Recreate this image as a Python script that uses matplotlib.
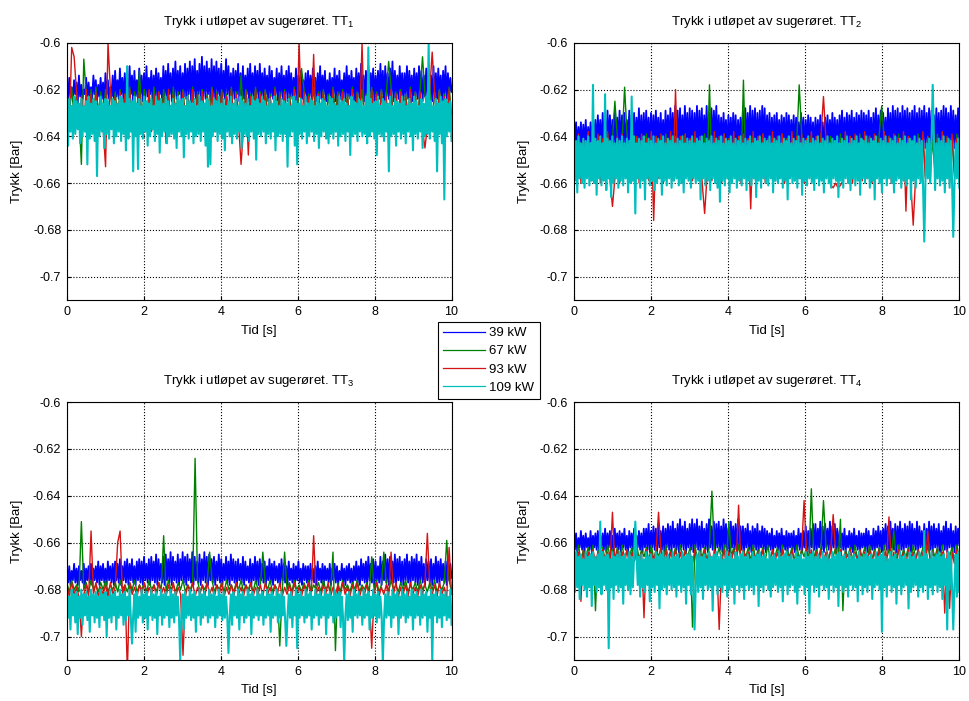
import numpy as np
import matplotlib
matplotlib.use('Agg')
import matplotlib.pyplot as plt

plt.rcParams['font.family'] = ['Liberation Sans', 'DejaVu Sans']
plt.rcParams['mathtext.default'] = 'regular'

effekt = ['39 kW', '67 kW', '93 kW', '109 kW']
farger = ['#0000ff', '#008000', '#d41414', '#00bfbf']
tykkelse = [1.3, 1.0, 1.0, 1.5]

# undertrykk i mbar (plottes som -verdi/1000 bar), lest av figuren, 0-10 s
########################### TT1 ##############################
tt1_39 = [618,624,615,623,619,625,616,622,617,626,614,623,618,624,620,622,615,625,617,623,
          619,624,614,622,616,625,618,623,615,624,617,626,613,622,616,624,619,623,614,625,
          612,623,616,624,611,622,615,625,613,623,617,624,610,622,614,626,612,623,616,624,
          611,622,614,625,613,624,610,623,615,622,612,625,614,623,611,624,613,622,615,626,
          610,623,612,624,609,622,613,625,611,623,608,624,612,622,610,625,613,623,609,624,
          611,622,608,625,610,623,607,624,612,622,609,625,606,623,610,624,608,622,611,625,
          607,623,610,624,608,622,611,625,609,623,612,624,607,622,610,625,613,623,611,624,
          612,622,609,625,613,623,610,624,614,622,611,625,609,623,613,624,610,622,612,625,
          609,623,613,624,611,622,614,625,610,623,612,624,615,622,611,625,613,623,610,624,
          614,622,612,625,610,623,613,624,615,622,611,625,614,623,612,624,616,622,613,625,
          612,623,614,624,611,622,615,625,613,623,610,624,614,622,612,625,616,623,613,624,
          615,622,611,625,614,623,612,624,616,622,613,625,610,623,614,624,612,622,615,625,
          611,623,613,624,609,622,614,625,612,623,610,624,613,622,611,625,614,623,612,624,
          609,622,612,625,610,623,613,624,611,622,608,625,612,623,614,624,610,622,613,625,
          613,623,610,624,612,622,614,625,611,623,613,624,610,622,612,625,614,623,611,624,
          612,622,614,625,610,623,613,624,611,622,614,625,612,623,610,624,613,622,615,621]
tt1_67 = [620,632,619,633,621,630,652,607,622,631,620,633,619,630,621,632,620,634,619,631,
          621,633,620,630,622,632,619,634,621,631,612,633,620,630,622,632,619,631,621,633,
          620,630,622,634,619,631,621,633,620,632,622,630,619,634,621,631,620,633,622,630,
          619,632,621,633,620,631,622,630,619,634,621,632,614,633,620,631,622,630,619,632,
          621,633,620,630,622,634,619,631,621,632,620,633,622,630,619,631,621,611,620,632,
          622,630,619,633,621,631,620,634,622,632,619,630,621,633,620,631,622,634,619,632,
          621,630,620,633,622,631,619,632,621,634,620,630,622,608,619,633,621,631,620,632,
          622,630,619,634,621,632,620,606,622,631,619,633,621,630,620,632,622,634,619,631]
tt1_93 = [622,636,602,606,621,637,623,635,620,638,622,636,621,634,624,637,653,600,620,635,
          623,637,621,636,622,638,620,635,624,637,621,636,623,634,620,638,622,635,621,637,
          623,643,620,638,622,634,624,637,621,636,623,635,620,638,622,634,621,637,623,636,
          620,638,622,635,621,637,623,636,620,634,622,635,652,637,621,648,623,636,620,638,
          622,634,621,637,623,636,620,638,622,635,621,637,623,636,620,638,600,635,621,637,
          623,636,605,638,622,634,621,637,641,636,620,638,622,635,621,637,623,636,620,638,
          622,635,600,637,623,636,620,638,622,634,621,637,623,636,620,638,622,635,621,637,
          623,636,620,638,622,634,621,637,645,636,620,604,622,635,621,637,623,636,620,637]
tt1_109 = [626,644,624,638,627,641,623,639,625,637,626,643,624,640,627,638,625,652,623,641,
           626,639,624,642,625,657,627,640,623,638,626,645,624,639,625,641,627,637,624,643,
           625,640,626,638,623,642,624,639,626,646,610,641,624,638,625,655,623,640,626,654,
           624,639,627,641,623,638,625,644,626,640,624,637,627,642,623,639,625,647,624,640,
           626,638,623,643,625,640,627,639,624,641,626,645,623,638,625,640,624,649,627,639,
           623,641,625,638,626,643,624,640,627,639,623,642,625,638,626,644,624,653,625,652,
           627,640,624,638,625,642,623,639,626,641,624,646,627,638,625,640,623,643,626,639,
           624,641,627,638,623,645,625,639,626,640,624,642,627,638,623,641,625,650,624,639,
           626,640,623,638,625,643,627,639,624,641,626,638,623,646,625,640,627,639,624,642,
           625,639,626,653,624,640,627,638,623,644,625,652,626,639,624,641,627,638,623,643,
           626,640,624,638,625,642,627,639,623,645,626,640,624,638,625,641,627,643,623,639,
           624,641,626,638,627,644,623,640,625,639,624,642,626,638,627,648,623,640,625,639,
           626,642,624,638,625,640,627,639,623,643,602,640,624,638,626,641,625,648,623,639,
           627,640,624,642,625,638,626,655,623,640,627,639,624,644,625,638,626,641,623,639,
           625,643,627,638,624,640,626,646,623,639,625,641,627,638,624,645,626,640,623,639,
           600,641,625,638,627,642,624,655,626,639,623,643,625,667,624,640,626,638,625,642]

########################### TT2 ##############################
tt2_39 = [635,644,634,645,636,643,634,646,635,644,633,645,636,643,634,646,632,644,633,645,
          631,643,633,646,630,644,632,645,629,643,631,646,633,644,630,645,632,643,629,646,
          631,644,630,645,633,643,629,646,631,644,630,645,632,643,628,646,631,644,630,645,
          629,643,632,646,630,644,631,645,629,643,632,646,630,644,633,645,629,643,631,646,
          628,644,630,645,627,643,629,646,628,644,631,645,627,643,630,646,628,644,629,645,
          630,643,627,646,629,644,628,645,631,643,627,646,630,644,628,645,629,643,627,646,
          631,644,632,645,630,643,633,646,631,644,632,645,630,643,631,646,633,644,632,645,
          629,643,628,646,630,644,627,645,629,643,628,646,630,644,629,645,627,643,628,646,
          631,644,630,645,632,643,631,646,630,644,633,645,631,643,632,646,630,644,631,645,
          633,643,631,646,632,644,634,645,630,643,632,646,633,644,631,645,632,643,634,646,
          632,644,633,645,631,643,634,646,632,644,631,645,633,643,630,646,632,644,633,645,
          631,643,629,646,632,644,630,645,631,643,629,646,632,644,630,645,631,643,629,646,
          630,644,631,645,629,643,632,646,630,644,628,645,631,643,629,646,630,644,632,645,
          628,643,630,646,627,644,629,645,628,643,630,646,627,644,629,645,628,643,630,646,
          629,644,627,645,630,643,628,646,629,644,627,645,630,643,628,646,629,644,631,645,
          628,643,630,646,629,644,627,645,628,643,630,646,627,644,629,645,631,643,628,642]
tt2_67 = [641,656,640,655,642,657,639,654,641,656,640,655,642,657,639,654,641,625,640,656,
          642,619,639,655,641,657,640,654,642,656,639,655,641,657,640,654,642,656,639,655,
          641,657,640,654,642,656,639,655,641,657,640,654,642,656,639,655,618,657,640,654,
          642,656,639,655,641,657,640,654,642,656,616,655,641,657,640,654,642,656,639,655,
          641,657,640,654,642,656,639,655,641,657,640,654,642,618,639,655,641,657,640,654,
          642,656,639,655,641,657,640,654,642,656,639,655,641,657,640,654,642,656,639,655,
          641,657,640,654,642,656,639,627,641,657,640,654,642,656,639,655,641,657,640,654,
          642,656,639,655,641,657,640,654,642,656,639,655,641,657,640,654,642,656,639,655]
tt2_93 = [640,658,639,660,641,657,638,659,640,658,639,660,641,657,638,659,670,658,640,660,
          639,657,641,659,638,658,640,660,639,657,641,659,638,676,640,658,639,660,641,657,
          638,659,620,658,640,660,639,657,641,659,638,658,640,660,673,657,641,659,638,658,
          640,660,639,657,641,659,638,658,640,660,639,657,641,671,638,659,640,658,639,660,
          641,657,638,659,640,658,639,660,641,657,638,659,640,658,639,660,641,657,638,659,
          640,658,639,623,641,657,661,662,660,662,661,659,638,658,640,660,639,657,641,659,
          638,658,640,660,639,657,641,659,638,658,640,660,639,657,641,659,638,672,640,660,
          678,657,641,659,638,658,640,660,627,657,641,659,638,658,640,660,639,657,641,659]
tt2_109 = [641,659,642,664,640,658,643,660,641,662,642,658,640,661,643,659,618,660,641,665,
           642,658,640,661,643,659,622,663,641,658,642,666,640,660,643,658,641,662,642,659,
           640,661,643,658,641,664,642,660,623,659,640,673,643,658,641,662,642,659,640,667,
           643,658,641,661,642,659,640,663,643,660,641,658,642,665,640,659,643,661,641,658,
           642,662,640,659,643,658,641,661,642,660,640,664,643,658,641,659,642,662,640,658,
           643,660,641,659,642,667,640,658,643,661,641,659,642,663,640,658,643,660,641,662,
           642,668,640,659,643,661,641,658,642,664,640,660,643,658,641,662,642,659,640,661,
           643,658,641,663,642,659,640,661,643,658,641,666,642,659,640,662,643,658,641,660,
           642,661,640,658,643,664,641,659,642,660,640,658,643,662,641,659,642,667,640,658,
           643,660,641,659,642,662,640,658,643,665,641,659,642,661,640,658,643,660,641,663,
           642,658,640,661,643,659,641,664,642,658,640,660,643,662,641,658,642,659,640,666,
           643,659,641,662,642,658,640,660,643,663,641,658,642,661,640,659,643,665,641,658,
           642,660,640,658,643,662,641,659,642,667,640,658,643,660,641,664,642,658,640,661,
           643,658,641,660,642,664,640,659,643,658,641,662,642,659,640,661,643,658,641,667,
           642,659,640,662,643,658,641,660,642,661,685,659,643,658,641,660,642,618,640,663,
           643,658,641,661,642,659,640,664,643,658,641,662,642,659,683,660,643,658,641,662]

########################### TT3 ##############################
tt3_39 = [671,677,670,678,672,676,669,677,671,678,670,676,672,677,669,678,671,676,670,677,
          669,678,671,676,670,677,668,678,670,676,669,677,671,678,668,676,670,677,669,678,
          668,676,669,677,667,678,670,676,668,677,667,678,669,676,667,677,670,678,668,676,
          667,677,668,678,666,676,669,677,667,678,666,676,668,677,665,678,667,676,669,677,
          666,678,665,676,667,677,664,678,666,676,668,677,665,678,667,676,664,677,666,678,
          665,676,667,677,664,678,666,676,668,677,665,678,667,676,664,677,666,678,665,676,
          667,677,666,678,668,676,665,677,667,678,669,676,666,677,668,678,665,676,667,677,
          668,678,667,676,669,677,666,678,668,676,670,677,667,678,669,676,666,677,668,678,
          667,676,669,677,668,678,670,676,667,677,669,678,668,676,670,677,669,678,667,676,
          669,677,670,678,668,676,671,677,669,678,670,676,668,677,671,678,669,676,670,677,
          670,678,669,676,671,677,670,678,668,676,671,677,669,678,670,676,671,677,669,678,
          671,676,669,677,670,678,672,676,669,677,671,678,670,676,669,677,671,678,670,676,
          668,677,670,678,667,676,669,677,668,678,666,676,669,677,667,678,668,676,670,677,
          666,678,668,676,665,677,667,678,666,676,668,677,665,678,667,676,666,677,668,678,
          667,676,665,677,668,678,666,676,667,677,665,678,668,676,666,677,669,678,667,676,
          668,677,667,678,669,676,666,677,668,678,667,676,669,677,668,678,666,676,669,675]
tt3_67 = [677,681,676,680,678,681,651,680,677,681,676,680,678,681,677,680,676,681,678,680,
          677,681,676,680,678,681,677,680,676,681,678,680,677,681,676,680,678,681,677,680,
          657,681,676,680,678,681,677,680,676,681,678,680,677,624,676,681,678,680,677,664,
          676,681,678,680,677,681,676,680,678,681,677,680,676,681,678,680,677,681,676,680,
          678,664,677,680,676,681,678,680,704,681,664,680,677,681,676,680,678,681,677,680,
          676,681,678,680,677,681,676,680,678,681,664,706,677,681,676,680,678,681,677,680,
          676,681,678,680,677,681,666,680,676,681,678,664,677,681,676,680,678,681,677,680,
          676,681,678,680,677,681,676,680,678,681,677,680,676,681,678,680,677,659,676,681]
tt3_93 = [678,683,677,682,679,683,700,682,678,683,655,682,677,683,679,682,678,683,677,682,
          679,660,655,682,678,715,677,682,679,683,678,682,677,683,679,682,678,683,677,682,
          679,683,678,682,677,683,679,682,708,683,678,682,677,683,679,682,678,683,677,682,
          679,683,678,682,677,683,679,682,678,683,677,682,679,683,678,682,677,683,679,682,
          678,683,677,682,679,683,678,682,677,683,679,682,678,683,677,682,679,683,678,682,
          677,683,657,682,679,683,678,682,677,683,679,682,678,683,677,682,679,683,678,682,
          677,683,679,682,678,683,705,682,677,683,679,682,678,683,664,682,677,683,679,682,
          678,683,677,682,679,683,678,682,677,656,679,682,678,683,677,682,679,683,662,682]
tt3_109 = [681,692,683,697,680,691,682,694,681,699,683,692,680,695,682,691,681,693,683,698,
           680,691,682,694,681,692,683,696,680,691,682,693,681,700,683,692,680,694,682,691,
           681,697,683,692,680,691,682,695,681,693,683,691,680,692,703,691,682,698,681,692,
           683,691,680,694,682,692,681,697,683,691,680,693,682,692,681,699,683,691,680,695,
           682,692,681,691,683,696,680,692,682,694,681,691,683,692,710,691,682,697,681,692,
           683,691,680,693,682,692,681,698,683,691,680,695,682,692,681,691,683,694,680,692,
           682,691,681,696,683,692,680,691,682,693,681,692,683,691,707,692,682,695,681,691,
           683,692,680,697,682,691,681,694,683,692,680,691,682,699,681,692,683,691,680,693,
           682,691,681,695,683,692,680,691,682,698,681,692,683,691,680,694,682,692,681,691,
           683,693,704,691,682,692,681,696,683,691,680,705,682,692,681,691,683,694,680,692,
           682,691,681,697,683,692,680,691,682,695,681,692,683,691,680,699,682,692,681,691,
           683,694,680,692,682,691,681,696,683,692,711,691,682,693,681,692,683,698,680,691,
           682,692,681,691,683,695,680,692,682,691,681,697,683,692,680,691,682,694,681,692,
           683,691,711,693,682,692,681,691,683,696,680,692,682,691,681,699,683,692,680,691,
           682,694,681,692,683,691,680,697,682,692,681,691,683,695,680,692,682,691,681,698,
           683,692,680,711,682,691,681,694,683,692,680,696,682,691,681,693,683,692,680,695]

########################### TT4 ##############################
tt4_39 = [657,663,656,664,658,662,655,663,657,664,656,662,658,663,655,664,657,662,656,663,
          655,664,657,662,656,663,654,664,656,662,655,663,657,664,654,662,656,663,655,664,
          656,662,654,663,657,664,655,662,656,663,654,664,657,662,655,663,656,664,654,662,
          654,663,652,664,655,662,653,663,654,664,652,662,655,663,653,664,654,662,652,663,
          653,664,651,662,654,663,652,664,650,662,653,663,651,664,654,662,652,663,650,664,
          652,662,650,663,653,664,651,662,654,663,652,664,650,662,653,663,651,664,652,662,
          651,663,653,664,650,662,652,663,654,664,651,662,653,663,652,664,650,662,653,663,
          653,664,654,662,652,663,655,664,653,662,654,663,652,664,655,662,653,663,654,664,
          655,662,656,663,654,664,657,662,655,663,656,664,654,662,657,663,655,664,656,662,
          656,663,655,664,657,662,654,663,656,664,655,662,653,663,655,664,654,662,652,663,
          652,664,654,662,651,663,653,664,652,662,654,663,651,664,653,662,652,663,654,664,
          655,662,656,663,654,664,657,662,655,663,656,664,654,662,657,663,655,664,656,662,
          656,663,654,664,655,662,657,663,654,664,655,662,653,663,655,664,654,662,652,663,
          653,664,651,662,654,663,652,664,653,662,651,663,654,664,652,662,653,663,651,664,
          652,662,654,663,651,664,653,662,655,663,652,664,654,662,651,663,653,664,652,662,
          654,663,652,664,655,662,653,663,651,664,654,662,652,663,655,664,653,662,654,661]
tt4_67 = [662,667,661,668,663,666,662,667,661,689,663,667,662,668,661,666,663,667,662,668,
          661,667,663,666,662,668,661,667,663,666,662,668,661,667,663,666,662,668,661,667,
          663,666,662,668,661,667,663,666,662,696,661,667,663,666,662,668,661,638,663,666,
          662,668,661,667,651,666,662,668,661,667,663,666,662,668,661,667,663,666,662,668,
          661,667,663,666,662,668,661,667,663,666,662,668,661,667,663,666,662,668,637,667,
          663,666,662,642,661,667,663,666,662,668,650,689,663,666,662,668,661,667,663,666,
          662,668,661,667,663,666,662,668,661,667,663,666,655,668,661,667,663,666,662,668,
          661,667,663,666,662,668,661,667,663,666,662,668,661,667,690,666,662,668,661,667]
tt4_93 = [663,669,664,685,663,670,664,668,663,669,664,670,663,668,664,669,647,670,663,668,
          664,669,663,670,664,668,663,669,664,692,663,670,664,668,663,647,664,669,663,670,
          664,668,663,669,664,670,663,668,664,669,663,670,664,668,663,669,664,670,663,668,
          697,669,663,670,664,668,663,669,644,670,663,668,664,669,663,670,664,668,663,669,
          676,670,663,668,664,669,663,670,664,668,663,669,664,670,663,642,664,668,663,669,
          664,670,663,668,664,669,663,648,664,670,663,668,664,669,663,670,664,668,663,669,
          664,670,663,668,664,669,663,670,664,668,649,669,664,670,663,668,664,669,663,670,
          664,668,663,669,664,670,655,668,664,669,663,670,664,690,663,688,664,669,663,670]
tt4_109 = [665,681,664,679,666,684,665,678,667,680,664,683,666,679,665,687,664,678,666,681,
           665,679,651,682,664,678,666,680,665,705,667,679,664,684,666,678,665,681,664,679,
           666,686,665,678,667,680,664,682,666,679,665,651,664,678,666,683,665,679,667,681,
           664,678,666,685,665,679,667,681,664,678,666,688,665,680,664,679,666,682,665,678,
           667,680,664,679,666,683,665,678,667,681,664,679,666,686,665,678,664,682,666,679,
           697,678,665,681,664,679,666,684,665,678,667,680,664,679,666,689,665,678,664,682,
           666,679,665,681,667,678,664,683,666,680,665,679,667,686,664,678,666,681,665,679,
           664,684,666,678,665,680,667,679,664,682,666,678,665,687,664,679,666,681,665,678,
           667,680,664,683,666,679,665,678,667,681,664,679,666,685,665,678,664,682,666,679,
           665,678,667,681,664,686,666,679,665,678,667,682,664,679,666,690,665,678,664,681,
           666,679,665,683,667,678,664,680,666,679,665,684,667,678,664,681,666,679,665,687,
           664,678,666,681,665,679,667,683,664,678,666,680,665,679,667,685,664,678,666,682,
           665,679,664,681,666,678,665,684,667,679,664,678,666,680,665,698,664,679,666,683,
           667,678,664,681,666,679,665,686,667,678,664,682,666,679,665,678,667,688,664,681,
           666,679,665,678,667,683,664,679,666,681,655,678,665,684,667,679,664,682,666,678,
           665,681,664,679,666,684,665,678,667,697,664,680,666,679,697,678,665,683,664,681]

paneler = [('1', [tt1_39, tt1_67, tt1_93, tt1_109]),
           ('2', [tt2_39, tt2_67, tt2_93, tt2_109]),
           ('3', [tt3_39, tt3_67, tt3_93, tt3_109]),
           ('4', [tt4_39, tt4_67, tt4_93, tt4_109])]

fig = plt.figure(figsize=(9.69, 7.01), dpi=100)
rects = [(0.069, 0.572, 0.397, 0.367),
         (0.592, 0.572, 0.398, 0.367),
         (0.069, 0.0585, 0.397, 0.368),
         (0.592, 0.0585, 0.398, 0.368)]

yt = [-0.7, -0.68, -0.66, -0.64, -0.62, -0.6]
for rect, (nr, serier) in zip(rects, paneler):
    ax = fig.add_axes(rect)
    for vals, c, lw, lab in zip(serier, farger, tykkelse, effekt):
        t = np.linspace(0, 10, len(vals))
        ax.plot(t, -np.array(vals) / 1000.0, color=c, lw=lw, label=lab)
    ax.set_xlim(0, 10)
    ax.set_ylim(-0.71, -0.6)
    ax.set_xticks(range(0, 11, 2))
    ax.set_yticks(yt)
    ax.set_yticklabels(['%g' % v for v in yt])
    ax.grid(True, linestyle=':', color='k', lw=0.8)
    ax.tick_params(direction='in', labelsize=9, length=3, pad=4)
    ax.set_title('Trykk i utløpet av sugerøret. TT$_{%s}$' % nr, fontsize=9.5, pad=13)
    ax.set_xlabel('Tid [s]', fontsize=9.5, labelpad=5)
    ax.set_ylabel('Trykk [Bar]', fontsize=9.5, labelpad=7)
    for s in ax.spines.values():
        s.set_linewidth(0.8)

handles, labels = ax.get_legend_handles_labels()
leg = fig.legend(handles, labels, loc='upper left', bbox_to_anchor=(0.452, 0.541),
                 borderaxespad=0, fontsize=9.5, fancybox=False, framealpha=1,
                 edgecolor='k', handlelength=3.2, borderpad=0.4, labelspacing=0.45,
                 handletextpad=0.3)
leg.get_frame().set_linewidth(0.8)
for l in leg.get_lines():
    l.set_linewidth(0.9)

fig.savefig('out.png', dpi=100)
